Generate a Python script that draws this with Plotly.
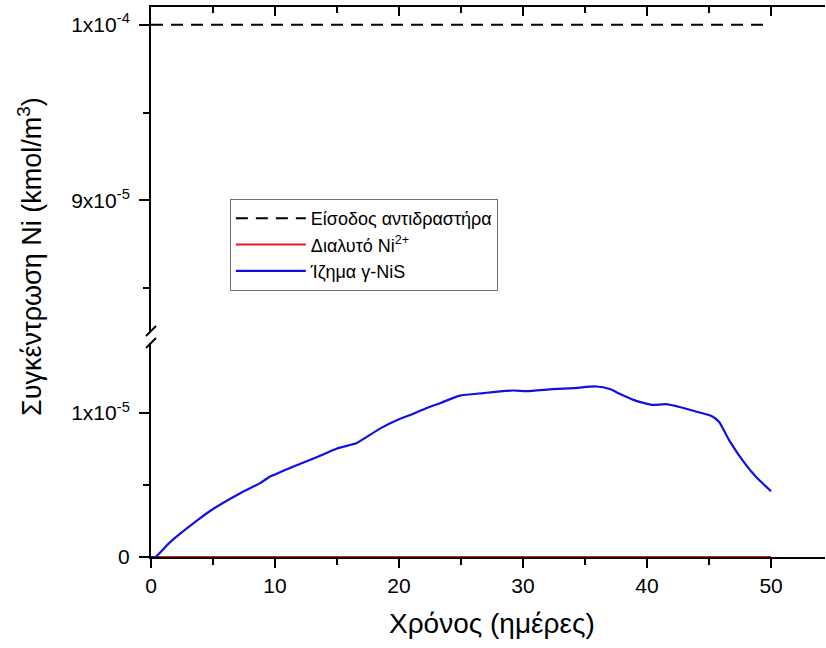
import plotly.graph_objects as go

# Time axis (days) and concentrations (kmol/m^3)
t_inlet = [0, 50]
c_inlet = [1e-4, 1e-4]

t_dissolved = [0, 50]
c_dissolved = [0.0, 0.0]

t_nis = [0.0, 0.35, 1.5, 3.7, 5.0, 7.2, 8.8, 9.6, 10.0, 11.5, 13.4, 15.0, 16.6,
         17.4, 18.5, 20.0, 20.9, 22.0, 23.3, 24.9, 26.8, 29.2, 30.3, 32.4,
         34.1, 35.9, 37.0, 37.8, 38.9, 40.4, 41.5, 42.7, 44.0, 45.2, 45.8,
         46.7, 47.9, 48.8, 50.0]
c_nis_e6 = [0.0, 0.0, 1.0, 2.52, 3.33, 4.43, 5.13, 5.59, 5.73, 6.29, 6.94, 7.53,
            7.92, 8.34, 8.93, 9.56, 9.86, 10.26, 10.68, 11.21, 11.38, 11.56,
            11.52, 11.66, 11.73, 11.84, 11.66, 11.33, 10.91, 10.56, 10.61,
            10.40, 10.09, 9.79, 9.39, 7.99, 6.48, 5.55, 4.57]
c_nis = [v * 1e-6 for v in c_nis_e6]

x_ticks = [0, 10, 20, 30, 40, 50]
x_minor = [5, 15, 25, 35, 45]
lower_ticks = [0, 1e-5]
lower_minor = [5e-6]
lower_labels = ["0", "1x10<sup>-5</sup>"]
upper_ticks = [9e-5, 1e-4]
upper_minor = [8.5e-5, 9.5e-5]
upper_labels = ["9x10<sup>-5</sup>", "1x10<sup>-4</sup>"]

names = ["Είσοδος αντιδραστήρα", "Διαλυτό Ni<sup>2+</sup>", "Ίζημα γ-NiS"]

FONT = "Liberation Sans, Arial, sans-serif"
X_RANGE = [0, 54.35]
LOW_RANGE = [0, 1.486e-5]
UP_RANGE = [8.2563e-5, 1.0101e-4]
LOW_DOM = [0, 0.3891]
UP_DOM = [0.4109, 1]

fig = go.Figure()
fig.add_trace(go.Scatter(x=t_inlet, y=c_inlet, name=names[0], mode="lines",
                         line=dict(color="black", width=2, dash="12px,8px"),
                         xaxis="x2", yaxis="y2"))
fig.add_trace(go.Scatter(x=t_dissolved, y=c_dissolved, name=names[1], mode="lines",
                         line=dict(color="#e8141c", width=2),
                         xaxis="x", yaxis="y"))
fig.add_trace(go.Scatter(x=t_nis, y=c_nis, name=names[2], mode="lines",
                         line=dict(color="#1010e0", width=2.2, shape="spline", smoothing=0.5),
                         xaxis="x", yaxis="y"))

axis_common = dict(showgrid=False, zeroline=False, linecolor="black", linewidth=2,
                   tickcolor="black", tickwidth=2,
                   tickfont=dict(family=FONT, size=21, color="black"))


def minor(direction, values, length=6):
    return dict(ticks=direction, ticklen=length, tickwidth=2, tickcolor="black",
                tickmode="array", tickvals=values)


fig.update_layout(
    width=826, height=648,
    margin=dict(l=151, r=1, t=7, b=91),
    paper_bgcolor="white", plot_bgcolor="white",
    font=dict(family=FONT, color="black"),
    xaxis=dict(**axis_common, range=X_RANGE, anchor="y", showline=True,
               ticks="outside", ticklen=9, tickmode="array", tickvals=x_ticks,
               minor=minor("outside", x_minor), ticklabelstandoff=0,
               layer="below traces"),
    xaxis2=dict(**axis_common, range=X_RANGE, anchor="y2", side="top", matches="x",
                showline=True, ticks="inside", ticklen=9, tickmode="array",
                tickvals=x_ticks, showticklabels=False,
                minor=minor("inside", x_minor)),
    yaxis=dict(**axis_common, range=LOW_RANGE, domain=LOW_DOM, anchor="x",
               showline=True, ticks="outside", ticklen=10, tickmode="array",
               tickvals=lower_ticks, ticktext=lower_labels, ticklabelstandoff=5,
               minor=minor("outside", lower_minor)),
    yaxis2=dict(**axis_common, range=UP_RANGE, domain=UP_DOM, anchor="x2",
                showline=True, ticks="outside", ticklen=10, tickmode="array",
                tickvals=upper_ticks, ticktext=upper_labels, ticklabelstandoff=5,
                minor=minor("outside", upper_minor)),
    yaxis3=dict(**axis_common, range=LOW_RANGE, overlaying="y", side="right",
                anchor="x", showline=True, ticks="inside", ticklen=8,
                tickmode="array", tickvals=lower_ticks, showticklabels=False),
    yaxis4=dict(**axis_common, range=UP_RANGE, overlaying="y2", side="right",
                anchor="x2", showline=True, ticks="inside", ticklen=8,
                tickmode="array", tickvals=upper_ticks, showticklabels=False),
    showlegend=True,
    legend=dict(x=0.117, y=0.651, xanchor="left", yanchor="top",
                bgcolor="white", bordercolor="#707070", borderwidth=1,
                font=dict(family=FONT, size=18, color="black"),
                itemwidth=70, tracegroupgap=0),
)

# Axis titles
fig.add_annotation(text="Χρόνος (ημέρες)", xref="paper", yref="paper",
                   x=0.5, y=0, xshift=4, yshift=-66, xanchor="center", yanchor="middle",
                   showarrow=False, font=dict(family=FONT, size=28, color="black"))
fig.add_annotation(text="Συγκέντρωση Ni (kmol/m<sup>3</sup>)", xref="paper", yref="paper",
                   x=0, y=0.5, xshift=-121, yshift=25, xanchor="center", yanchor="middle",
                   textangle=-90, showarrow=False,
                   font=dict(family=FONT, size=27, color="black"))

# Axis-break marks on the left spine
for yb in (UP_DOM[0], LOW_DOM[1]):
    fig.add_shape(type="line", xref="paper", yref="paper",
                  xsizemode="pixel", ysizemode="pixel", xanchor=0, yanchor=yb,
                  x0=-5, x1=5, y0=-5, y1=5,
                  line=dict(color="black", width=2))

fig.write_html("out.html")
